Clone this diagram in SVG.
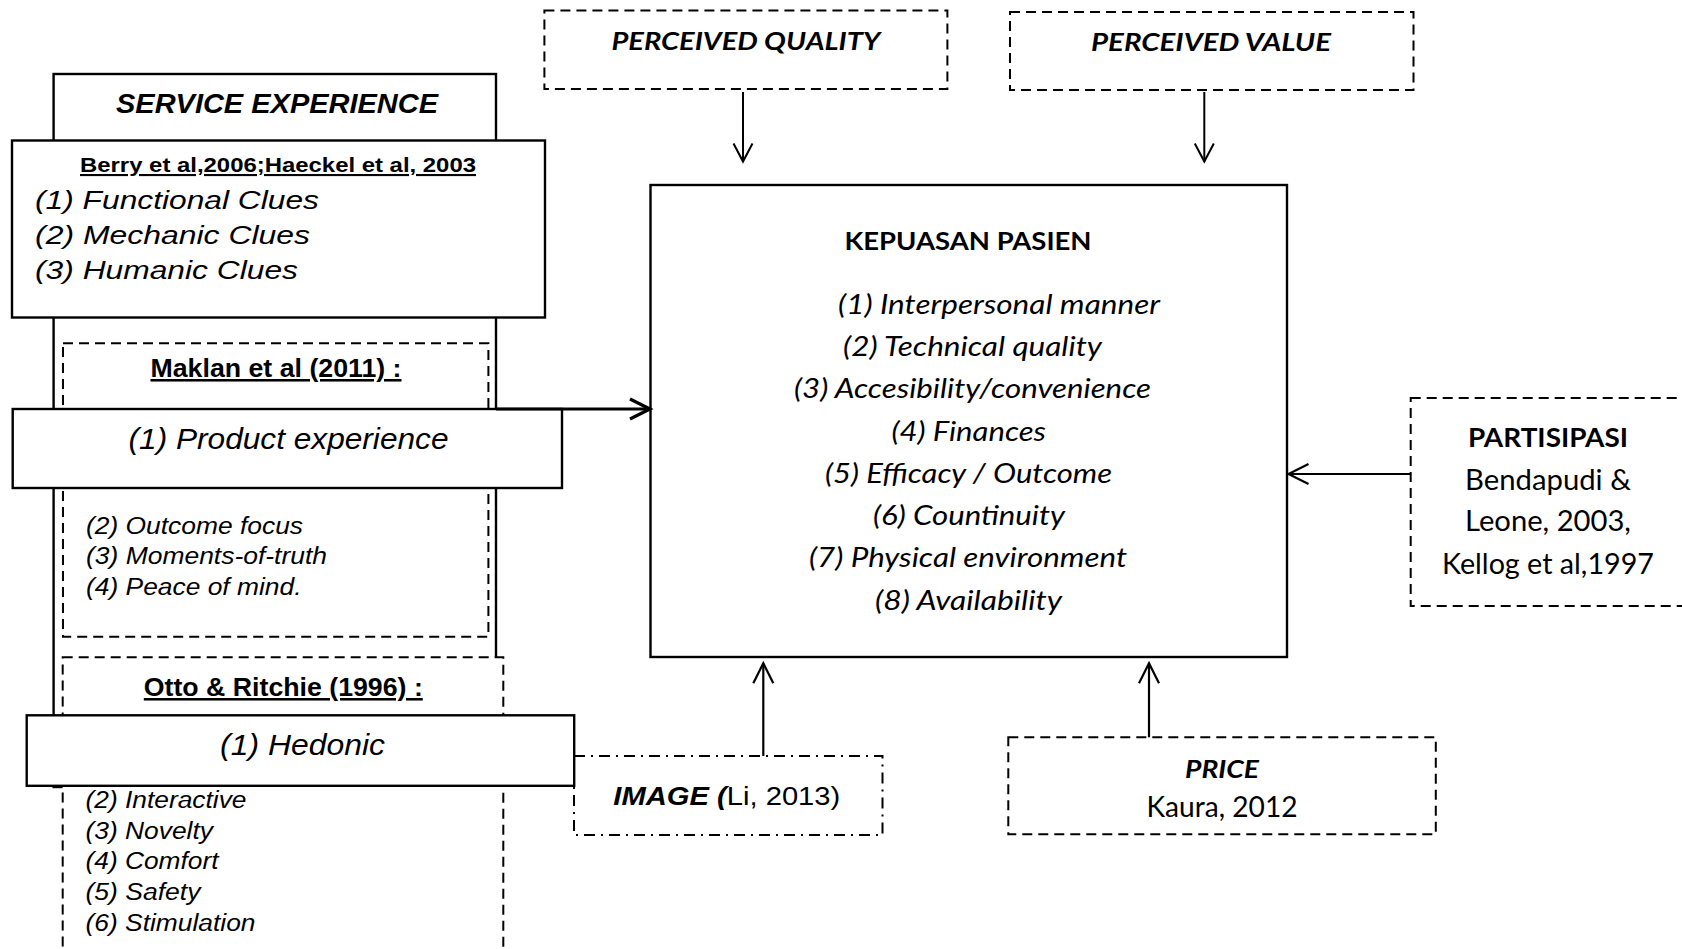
<svg xmlns="http://www.w3.org/2000/svg" width="1682" height="949" viewBox="0 0 1682 949">
<style>
.box{fill:#fff;stroke:#000;stroke-width:2.4}
.dash{fill:#fff;stroke:#000;stroke-width:2;stroke-dasharray:10 6}
.dashdot{fill:#fff;stroke:#000;stroke-width:2;stroke-dasharray:11 6 2 6}
text{fill:#000}
.ar{font-family:"Liberation Sans",Arimo,Arial,sans-serif}
.ca{font-family:Lato,"Open Sans",sans-serif}
.b{font-weight:bold}
.i{font-style:italic}
.u{text-decoration:underline}
.mid{text-anchor:middle}
</style>
<defs>
<marker id="ahThin" viewBox="0 0 18 20" refX="18" refY="10" markerWidth="18" markerHeight="20" orient="auto" markerUnits="userSpaceOnUse" overflow="visible">
<path d="M0,0.5 L18,10 L0,19.5" fill="none" stroke="#000" stroke-width="2"/>
</marker>
<marker id="ahMed" viewBox="0 0 20 22" refX="20" refY="11" markerWidth="20" markerHeight="22" orient="auto" markerUnits="userSpaceOnUse" overflow="visible">
<path d="M0,1 L20,11 L0,21" fill="none" stroke="#000" stroke-width="2.2"/>
</marker>
<marker id="ahThick" viewBox="0 0 20 22" refX="20" refY="11" markerWidth="20" markerHeight="22" orient="auto" markerUnits="userSpaceOnUse" overflow="visible">
<path d="M0,1 L20,11 L0,21" fill="none" stroke="#000" stroke-width="3.2"/>
</marker>
</defs>
<rect x="0" y="0" width="1682" height="949" fill="#fff"/>

<g id="service-experience">
<rect class="box" x="53.6" y="74" width="442.4" height="713"/>
<text class="ar b i mid" x="277" y="113" font-size="27" textLength="322" lengthAdjust="spacingAndGlyphs">SERVICE EXPERIENCE</text>
</g>

<g id="berry">
<rect class="box" x="12" y="140.5" width="533" height="177"/>
<text class="ar b u mid" x="278" y="172" font-size="21" textLength="396" lengthAdjust="spacingAndGlyphs">Berry et al,2006;Haeckel et al, 2003</text>
<text class="ar i" x="35" y="209" font-size="26.5" textLength="284" lengthAdjust="spacingAndGlyphs">(1) Functional Clues</text>
<text class="ar i" x="35" y="243.5" font-size="26.5" textLength="275" lengthAdjust="spacingAndGlyphs">(2) Mechanic Clues</text>
<text class="ar i" x="35" y="279" font-size="26.5" textLength="263" lengthAdjust="spacingAndGlyphs">(3) Humanic Clues</text>
</g>

<g id="maklan">
<rect class="dash" x="63" y="343.3" width="425.4" height="293.4"/>
<text class="ar b u mid" x="276" y="377" font-size="25.5" textLength="251" lengthAdjust="spacingAndGlyphs">Maklan et al (2011) :</text>
<text class="ar i" x="86" y="533.5" font-size="24" textLength="217" lengthAdjust="spacingAndGlyphs">(2) Outcome focus</text>
<text class="ar i" x="86" y="563.5" font-size="24" textLength="241" lengthAdjust="spacingAndGlyphs">(3) Moments-of-truth</text>
<text class="ar i" x="86" y="594.5" font-size="24" textLength="215.5" lengthAdjust="spacingAndGlyphs">(4) Peace of mind.</text>
</g>

<g id="product-experience">
<rect class="box" x="12.7" y="409" width="549.3" height="79"/>
<text class="ar i mid" x="288.5" y="448.5" font-size="29" textLength="320" lengthAdjust="spacingAndGlyphs">(1) Product experience</text>
</g>

<g id="otto">
<rect class="dash" x="62.7" y="657.3" width="440.6" height="320"/>
<text class="ar b u mid" x="283.3" y="696" font-size="25.5" textLength="279" lengthAdjust="spacingAndGlyphs">Otto &amp; Ritchie (1996) :</text>
<text class="ar i" x="85.5" y="808" font-size="23.5" textLength="161" lengthAdjust="spacingAndGlyphs">(2) Interactive</text>
<text class="ar i" x="85.5" y="838.8" font-size="23.5" textLength="127.5" lengthAdjust="spacingAndGlyphs">(3) Novelty</text>
<text class="ar i" x="85.5" y="869.3" font-size="23.5" textLength="133" lengthAdjust="spacingAndGlyphs">(4) Comfort</text>
<text class="ar i" x="85.5" y="900" font-size="23.5" textLength="115" lengthAdjust="spacingAndGlyphs">(5) Safety</text>
<text class="ar i" x="85.5" y="930.5" font-size="23.5" textLength="170" lengthAdjust="spacingAndGlyphs">(6) Stimulation</text>
</g>

<g id="image">
<rect class="dashdot" x="574" y="756" width="308.5" height="79"/>
<text class="ar" x="613.3" y="805" font-size="26.5" textLength="227" lengthAdjust="spacingAndGlyphs"><tspan class="b i">IMAGE (</tspan>Li, 2013)</text>
</g>

<g id="hedonic">
<rect class="box" x="26.7" y="715.3" width="547.5" height="70.5" stroke-width="2.7"/>
<text class="ar i mid" x="302.5" y="755" font-size="29.5" textLength="165" lengthAdjust="spacingAndGlyphs">(1) Hedonic</text>
</g>

<g id="perceived-quality">
<rect class="dash" x="544.4" y="10.5" width="403" height="78.5"/>
<text class="ca b i mid" x="746" y="50" font-size="25.5" textLength="269" lengthAdjust="spacingAndGlyphs">PERCEIVED QUALITY</text>
</g>

<g id="perceived-value">
<rect class="dash" x="1010" y="12" width="403.5" height="78"/>
<text class="ca b i mid" x="1211" y="50.5" font-size="25.5" textLength="240" lengthAdjust="spacingAndGlyphs">PERCEIVED VALUE</text>
</g>

<g id="kepuasan-pasien">
<rect class="box" x="650.5" y="185" width="636.5" height="472" stroke-width="2.2"/>
<text class="ca b mid" x="968" y="249.5" font-size="25.5" textLength="247" lengthAdjust="spacingAndGlyphs">KEPUASAN PASIEN</text>
<text class="ca i" x="838" y="313.7" font-size="26.5" textLength="322" lengthAdjust="spacingAndGlyphs">(1) Interpersonal manner</text>
<text class="ca i" x="843" y="355.5" font-size="26.5" textLength="259" lengthAdjust="spacingAndGlyphs">(2) Technical quality</text>
<text class="ca i" x="794" y="397.5" font-size="26.5" textLength="357" lengthAdjust="spacingAndGlyphs">(3) Accesibility/convenience</text>
<text class="ca i" x="891.4" y="441" font-size="26.5" textLength="154.6" lengthAdjust="spacingAndGlyphs">(4) Finances</text>
<text class="ca i" x="825" y="483" font-size="26.5" textLength="287" lengthAdjust="spacingAndGlyphs">(5) Efficacy / Outcome</text>
<text class="ca i" x="873" y="525" font-size="26.5" textLength="192" lengthAdjust="spacingAndGlyphs">(6) Countinuity</text>
<text class="ca i" x="809" y="567.3" font-size="26.5" textLength="318" lengthAdjust="spacingAndGlyphs">(7) Physical environment</text>
<text class="ca i" x="875" y="609.5" font-size="26.5" textLength="187" lengthAdjust="spacingAndGlyphs">(8) Availability</text>
</g>

<g id="partisipasi">
<rect class="dash" x="1410.7" y="398" width="290" height="208"/>
<text class="ca b mid" x="1548" y="446.5" font-size="27" textLength="160" lengthAdjust="spacingAndGlyphs">PARTISIPASI</text>
<text class="ca mid" x="1548" y="489.5" font-size="28" textLength="166" lengthAdjust="spacingAndGlyphs">Bendapudi &amp;</text>
<text class="ca mid" x="1548" y="531" font-size="28" textLength="166" lengthAdjust="spacingAndGlyphs">Leone, 2003,</text>
<text class="ca mid" x="1548" y="573.5" font-size="28" textLength="212" lengthAdjust="spacingAndGlyphs">Kellog et al,1997</text>
</g>

<g id="price">
<rect class="dash" x="1008.3" y="737.3" width="427.5" height="97"/>
<text class="ca b i mid" x="1222" y="778" font-size="25.5" textLength="74" lengthAdjust="spacingAndGlyphs">PRICE</text>
<text class="ca mid" x="1222" y="817" font-size="28" textLength="151" lengthAdjust="spacingAndGlyphs">Kaura, 2012</text>
</g>

<g id="connectors" fill="none" stroke="#000">
<line x1="743" y1="92" x2="743" y2="161.5" stroke-width="2" marker-end="url(#ahThin)"/>
<line x1="1204.3" y1="92" x2="1204.3" y2="161.5" stroke-width="2" marker-end="url(#ahThin)"/>
<line x1="496" y1="409" x2="650" y2="409" stroke-width="3.2" marker-end="url(#ahThick)"/>
<line x1="1410.7" y1="474" x2="1288.5" y2="474" stroke-width="2" marker-end="url(#ahMed)"/>
<line x1="763.3" y1="756" x2="763.3" y2="663.3" stroke-width="2.2" marker-end="url(#ahMed)"/>
<line x1="1149" y1="737.3" x2="1149" y2="663.3" stroke-width="2.2" marker-end="url(#ahMed)"/>
</g>
</svg>
